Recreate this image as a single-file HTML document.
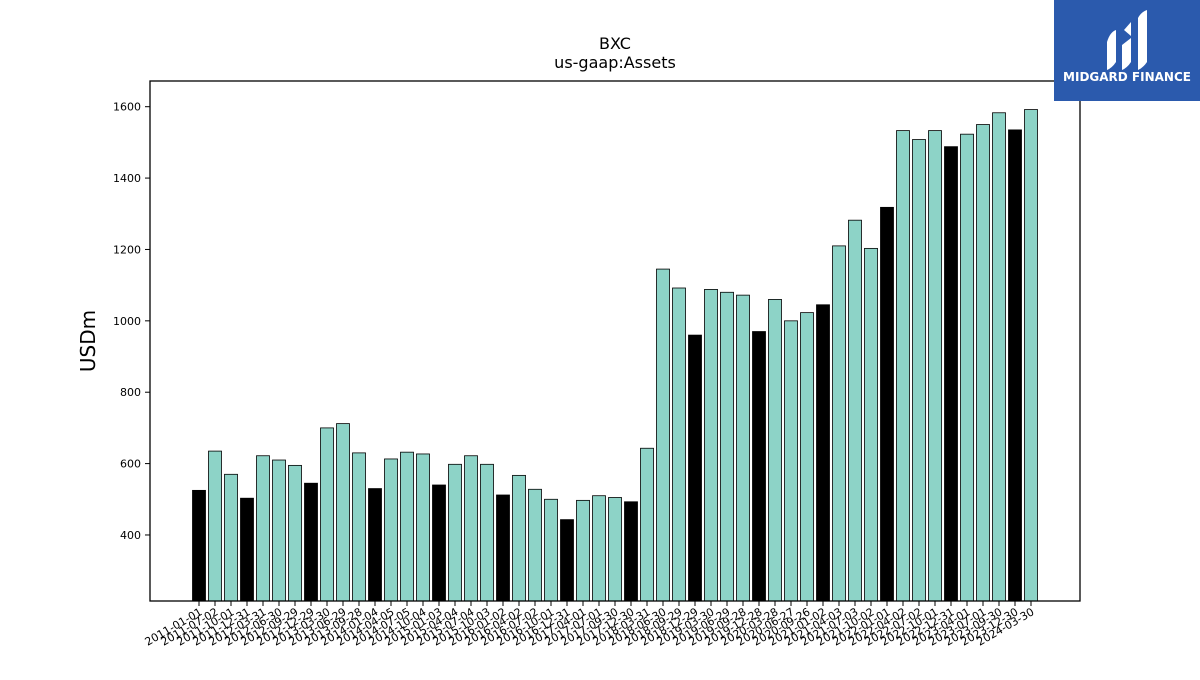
<!DOCTYPE html>
<html><head><meta charset="utf-8"><style>
body{margin:0;background:#fff;width:1200px;height:675px;overflow:hidden;font-family:"Liberation Sans","DejaVu Sans",sans-serif}
</style></head><body>
<svg width="1200" height="675" font-family="DejaVu Sans, Liberation Sans, sans-serif">
<text x="615" y="49" text-anchor="middle" font-size="16">BXC</text>
<text x="615" y="68" text-anchor="middle" font-size="16">us-gaap:Assets</text>
<text transform="translate(95,341) rotate(-90)" text-anchor="middle" font-size="20">USDm</text>
<g id="bars"></g>
<g id="yt"></g>
<g id="xt"></g>
<rect x="150" y="81" width="930" height="520" fill="none" stroke="#000" stroke-width="1.3"/>
<g>
<rect x="1054" y="0" width="146" height="101" fill="#2b5aad"/>
<path d="M1107 70 L1107 42 Q1110 32 1116 30 L1116 62 Q1112 68 1107 70Z M1122 70 L1122 45 L1131 38 L1131 62 Q1127 68 1122 70Z M1138 70 L1138 18 Q1141 12 1147 10 L1147 62 Q1143 68 1138 70Z M1124 30 L1131 22 L1131 36 Z" fill="#fff"/>
<text x="1127" y="81" text-anchor="middle" font-size="12" font-weight="bold" fill="#fff">MIDGARD FINANCE</text>
</g>
</svg>
<script>
const dates=["2011-01-01","2011-07-02","2011-10-01","2011-12-31","2012-03-31","2012-06-30","2012-09-29","2012-12-29","2013-03-30","2013-06-29","2013-09-28","2014-01-04","2014-04-05","2014-07-05","2014-10-04","2015-01-03","2015-04-04","2015-07-04","2015-10-03","2016-01-02","2016-04-02","2016-07-02","2016-10-01","2016-12-31","2017-04-01","2017-07-01","2017-09-30","2017-12-30","2018-03-31","2018-06-30","2018-09-29","2018-12-29","2019-03-30","2019-06-29","2019-09-28","2019-12-28","2020-03-28","2020-06-27","2020-09-26","2021-01-02","2021-04-03","2021-07-03","2021-10-02","2022-01-01","2022-04-02","2022-07-02","2022-10-01","2022-12-31","2023-04-01","2023-07-01","2023-09-30","2023-12-30","2024-03-30"];
const values=[525,635,570,503,622,610,595,545,700,712,630,530,613,632,627,540,598,622,598,512,567,528,500,443,497,510,505,493,643,1145,1092,960,1088,1080,1072,970,1060,1000,1023,1045,1210,1282,1203,1318,1533,1508,1533,1488,1523,1550,1583,1535,1592];
const yearEnd=[1,0,0,1,0,0,0,1,0,0,0,1,0,0,0,1,0,0,0,1,0,0,0,1,0,0,0,1,0,0,0,1,0,0,0,1,0,0,0,1,0,0,0,1,0,0,0,1,0,0,0,1,0];
const yTicks=[400,600,800,1000,1200,1400,1600];
const NS="http://www.w3.org/2000/svg";
const y0=215,y1=1672;
function ys(v){return 601-(v-y0)/(y1-y0)*520;}
function xs(i){return 199+(i)*(1031-199)/(dates.length-1);}
const bars=document.getElementById('bars'),yt=document.getElementById('yt'),xt=document.getElementById('xt');
values.forEach((v,i)=>{
 const r=document.createElementNS(NS,'rect');
 r.setAttribute('x',xs(i)-6.5);r.setAttribute('width',13);
 r.setAttribute('y',ys(v));r.setAttribute('height',601-ys(v));
 r.setAttribute('fill',yearEnd[i]?'#000':'#8dd3c7');r.setAttribute('stroke','#000');r.setAttribute('stroke-width','0.8');
 
 
 bars.appendChild(r);
 const t=document.createElementNS(NS,'line');
 t.setAttribute('x1',xs(i));t.setAttribute('x2',xs(i));t.setAttribute('y1',601);t.setAttribute('y2',606);t.setAttribute('stroke','#000');
 
 
 xt.appendChild(t);
 const l=document.createElementNS(NS,'text');
 l.setAttribute('transform','translate('+(xs(i)+4)+',614) rotate(-30)');
 l.setAttribute('text-anchor','end');l.setAttribute('font-size','11');
 l.textContent=dates[i];
 
 
 xt.appendChild(l);
});
yTicks.forEach(v=>{
 const t=document.createElementNS(NS,'line');
 t.setAttribute('x1',145);t.setAttribute('x2',150);t.setAttribute('y1',ys(v));t.setAttribute('y2',ys(v));t.setAttribute('stroke','#000');
 
 
 yt.appendChild(t);
 const l=document.createElementNS(NS,'text');
 l.setAttribute('x',141);l.setAttribute('y',ys(v)+4);l.setAttribute('text-anchor','end');l.setAttribute('font-size','11');
 l.textContent=v;
 
 
 yt.appendChild(l);
});
</script>
</body></html>
